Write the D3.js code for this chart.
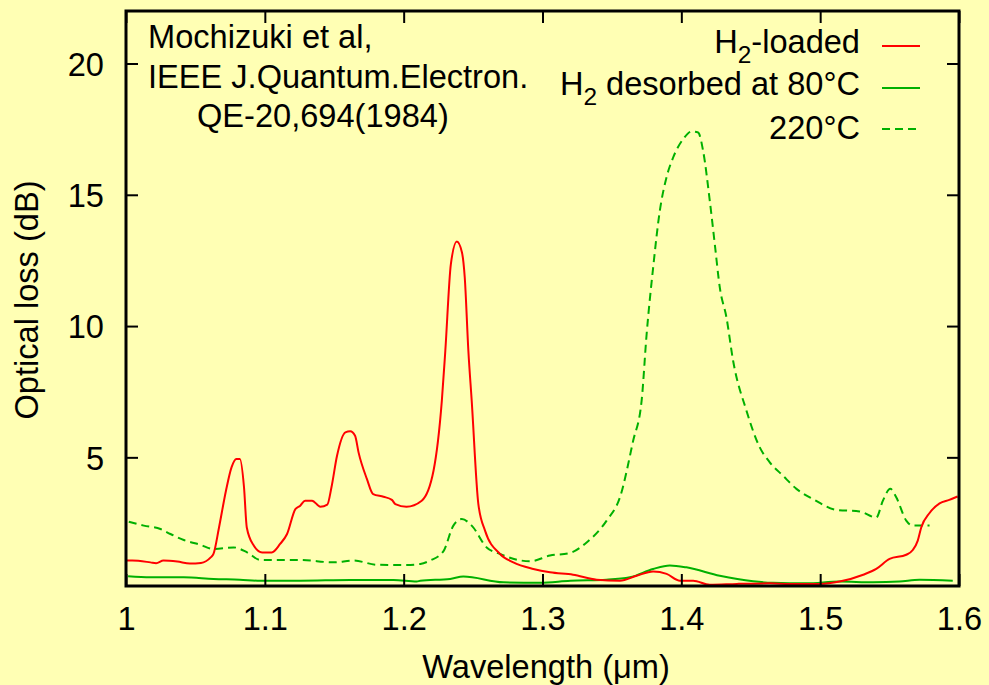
<!DOCTYPE html>
<html>
<head>
<meta charset="utf-8">
<script src="https://cdn.jsdelivr.net/npm/d3@7"></script>
<style>
  html, body { margin: 0; padding: 0; background: #ffffb4; }
  svg { display: block; }
  text { font-family: "Liberation Sans", Arial, sans-serif; fill: #000; }
</style>
</head>
<body>
<svg id="chart" width="989" height="685"></svg>
<script>
// Optical loss spectra of a hydrogen-loaded fibre (wavelength in µm, loss in dB)
const loaded = [
  [1.000, 1.07], [1.0045, 1.07], [1.0176, 1.00], [1.0217, 0.97], [1.027, 1.07], [1.037, 1.03],
  [1.046, 0.96], [1.054, 0.98], [1.061, 1.19], [1.063, 1.32], [1.067, 2.33], [1.072, 3.73],
  [1.076, 4.62], [1.0795, 4.94], [1.082, 4.94], [1.085, 3.86], [1.087, 2.33], [1.092, 1.64],
  [1.098, 1.38], [1.105, 1.38], [1.111, 1.70], [1.116, 2.08], [1.122, 3.03], [1.1255, 3.16],
  [1.129, 3.35], [1.134, 3.35], [1.140, 3.12], [1.145, 3.20], [1.148, 3.86], [1.152, 5.06],
  [1.158, 5.95], [1.1615, 5.99], [1.165, 5.82], [1.1675, 5.19], [1.1735, 4.18], [1.178, 3.60],
  [1.1855, 3.50], [1.1915, 3.38], [1.194, 3.22], [1.202, 3.12], [1.213, 3.35], [1.2215, 4.49],
  [1.2275, 7.16], [1.230, 9.06], [1.234, 12.36], [1.2383, 13.22], [1.242, 12.80], [1.244, 11.85],
  [1.2466, 9.06], [1.249, 7.16], [1.2538, 3.22], [1.2586, 2.21], [1.2694, 1.32], [1.279, 1.00],
  [1.2934, 0.75], [1.3054, 0.62], [1.322, 0.53], [1.339, 0.34], [1.3558, 0.30], [1.3678, 0.49],
  [1.3797, 0.65], [1.3894, 0.56], [1.399, 0.30], [1.4085, 0.30], [1.4205, 0.15], [1.440, 0.18],
  [1.4637, 0.20], [1.478, 0.18], [1.4996, 0.18], [1.514, 0.27], [1.531, 0.53], [1.5404, 0.75],
  [1.550, 1.13], [1.562, 1.29], [1.5667, 1.47], [1.5703, 1.83], [1.5728, 2.33], [1.5788, 2.88],
  [1.586, 3.25], [1.593, 3.38], [1.599, 3.51]
];

const desorbed80 = [
  [1.0015, 0.47], [1.0176, 0.43], [1.0416, 0.43], [1.063, 0.37], [1.082, 0.34], [1.0968, 0.30],
  [1.1255, 0.30], [1.1615, 0.33], [1.1927, 0.33], [1.2095, 0.27], [1.2119, 0.30], [1.2335, 0.37],
  [1.243, 0.46], [1.2718, 0.24], [1.2982, 0.22], [1.320, 0.30], [1.346, 0.34], [1.363, 0.43],
  [1.3797, 0.75], [1.3917, 0.88], [1.4037, 0.81], [1.4277, 0.49], [1.4517, 0.28], [1.466, 0.22],
  [1.490, 0.20], [1.514, 0.27], [1.538, 0.24], [1.557, 0.27], [1.5716, 0.34], [1.5955, 0.30]
];

const desorbed220 = [
  [1.002, 2.55], [1.0128, 2.40], [1.0248, 2.27], [1.032, 2.08], [1.0416, 1.85], [1.0536, 1.67],
  [1.063, 1.51], [1.0776, 1.57], [1.0872, 1.38], [1.0968, 1.09], [1.1255, 1.09], [1.1495, 1.00],
  [1.164, 1.07], [1.1807, 0.91], [1.2023, 0.90], [1.212, 0.94], [1.219, 1.07], [1.2286, 1.42],
  [1.2358, 2.40], [1.2419, 2.65], [1.249, 2.40], [1.2598, 1.57], [1.2694, 1.32], [1.291, 1.04],
  [1.3054, 1.26], [1.3198, 1.36], [1.3318, 1.76], [1.3462, 2.59], [1.3558, 3.48], [1.3653, 5.63],
  [1.3714, 7.16], [1.375, 9.69], [1.3797, 12.23], [1.3845, 14.39], [1.3893, 15.66], [1.3941, 16.42],
  [1.4013, 17.12], [1.4073, 17.41], [1.4121, 17.37], [1.4157, 16.67], [1.4205, 14.77], [1.4241, 13.12],
  [1.4277, 11.47], [1.4325, 10.33], [1.4373, 8.68], [1.4469, 6.78], [1.4565, 5.38], [1.4637, 4.81],
  [1.4732, 4.30], [1.4829, 3.80], [1.4948, 3.41], [1.5117, 3.00], [1.5284, 2.94], [1.5404, 2.71],
  [1.5452, 3.35], [1.5505, 3.80], [1.5548, 3.48], [1.562, 2.59], [1.5667, 2.40], [1.5788, 2.40]
];

const xTicks = [1.0, 1.1, 1.2, 1.3, 1.4, 1.5, 1.6];
const xTickLabels = ["1", "1.1", "1.2", "1.3", "1.4", "1.5", "1.6"];
const yTicks = [5, 10, 15, 20];
const yTickLabels = ["5", "10", "15", "20"];
const xDomain = [1.0, 1.6];
const yDomain = [0.1, 22];

const noteLines = ["Mochizuki et al,", "IEEE J.Quantum.Electron.", "QE-20,694(1984)"];

const series = [
  { name: "H", sub: "2", rest: "-loaded", data: loaded, color: "#ff0000", dash: null },
  { name: "H", sub: "2", rest: " desorbed at 80\u00b0C", data: desorbed80, color: "#00b000", dash: null },
  { name: "220\u00b0C", sub: "", rest: "", data: desorbed220, color: "#00b000", dash: "8,5" }
];

const FONT = 32.6;
const svg = d3.select("#chart");
const plotLeft = 126, plotRight = 959, plotTop = 11, plotBottom = 586;

const x = d3.scaleLinear().domain(xDomain).range([plotLeft, plotRight]);
const y = d3.scaleLinear().domain(yDomain).range([plotBottom, plotTop]);

svg.append("rect").attr("width", 989).attr("height", 685).attr("fill", "#ffffb4");

// Curves
const line = d3.line().x(d => x(d[0])).y(d => y(d[1])).curve(d3.curveMonotoneX);
svg.append("clipPath").attr("id", "plot-clip")
  .append("rect").attr("x", plotLeft).attr("y", plotTop)
  .attr("width", plotRight - plotLeft).attr("height", plotBottom - plotTop);

const plot = svg.append("g").attr("clip-path", "url(#plot-clip)");
series.slice().reverse().forEach(s => {
  plot.append("path")
    .attr("d", line(s.data))
    .attr("fill", "none")
    .attr("stroke", s.color)
    .attr("stroke-width", 2)
    .attr("stroke-linejoin", "round")
    .attr("stroke-dasharray", s.dash);
});

// Axes with inward ticks on all four sides
const tickLen = 12;
function styleAxis(g) {
  g.select(".domain").remove();
  g.selectAll(".tick line").attr("stroke", "#000").attr("stroke-width", 2);
  g.selectAll(".tick text").style("font-size", FONT + "px").attr("fill", "#000");
}
svg.append("g").attr("transform", `translate(0,${plotBottom})`)
  .call(d3.axisBottom(x).tickValues(xTicks).tickFormat((d, i) => xTickLabels[i]).tickSizeInner(-tickLen).tickSizeOuter(0))
  .call(styleAxis)
  .call(g => g.selectAll(".tick text").attr("y", 44).attr("dy", null));
svg.append("g").attr("transform", `translate(0,${plotTop})`)
  .call(d3.axisTop(x).tickValues(xTicks).tickFormat("").tickSizeInner(-tickLen).tickSizeOuter(0))
  .call(styleAxis);
svg.append("g").attr("transform", `translate(${plotLeft},0)`)
  .call(d3.axisLeft(y).tickValues(yTicks).tickFormat((d, i) => yTickLabels[i]).tickSizeInner(-tickLen).tickSizeOuter(0))
  .call(styleAxis)
  .call(g => g.selectAll(".tick text").attr("x", -22).attr("dy", "0.36em"));
svg.append("g").attr("transform", `translate(${plotRight},0)`)
  .call(d3.axisRight(y).tickValues(yTicks).tickFormat("").tickSizeInner(-tickLen).tickSizeOuter(0))
  .call(styleAxis);

// Frame
svg.append("rect").attr("x", plotLeft).attr("y", plotTop)
  .attr("width", plotRight - plotLeft).attr("height", plotBottom - plotTop)
  .attr("fill", "none").attr("stroke", "#000").attr("stroke-width", 3);

// Axis titles
svg.append("text").attr("x", 546).attr("y", 678).attr("text-anchor", "middle")
  .style("font-size", FONT + "px").text("Wavelength (\u03bcm)");
svg.append("text").attr("transform", "translate(38,300) rotate(-90)").attr("text-anchor", "middle")
  .style("font-size", FONT + "px").text("Optical loss (dB)");

// Reference note
const noteX = [148, 148, 197];
const noteY = [48, 88, 127];
noteLines.forEach((t, i) => {
  svg.append("text").attr("x", noteX[i]).attr("y", noteY[i])
    .style("font-size", FONT + "px").text(t);
});

// Legend
const legendTextX = 860, sampleX0 = 882, sampleX1 = 920;
const legendRows = [53, 95, 139];
const sampleY = [46, 88, 129];
series.forEach((s, i) => {
  const t = svg.append("text").attr("x", legendTextX).attr("y", legendRows[i])
    .attr("text-anchor", "end").style("font-size", FONT + "px");
  t.append("tspan").text(s.name);
  if (s.sub) {
    t.append("tspan").attr("dy", 10).style("font-size", (FONT * 0.75) + "px").text(s.sub);
    t.append("tspan").attr("dy", -10).text(s.rest);
  }
  svg.append("line").attr("x1", sampleX0).attr("x2", sampleX1)
    .attr("y1", sampleY[i]).attr("y2", sampleY[i])
    .attr("stroke", s.color).attr("stroke-width", 2).attr("stroke-dasharray", s.dash);
});
</script>
</body>
</html>
